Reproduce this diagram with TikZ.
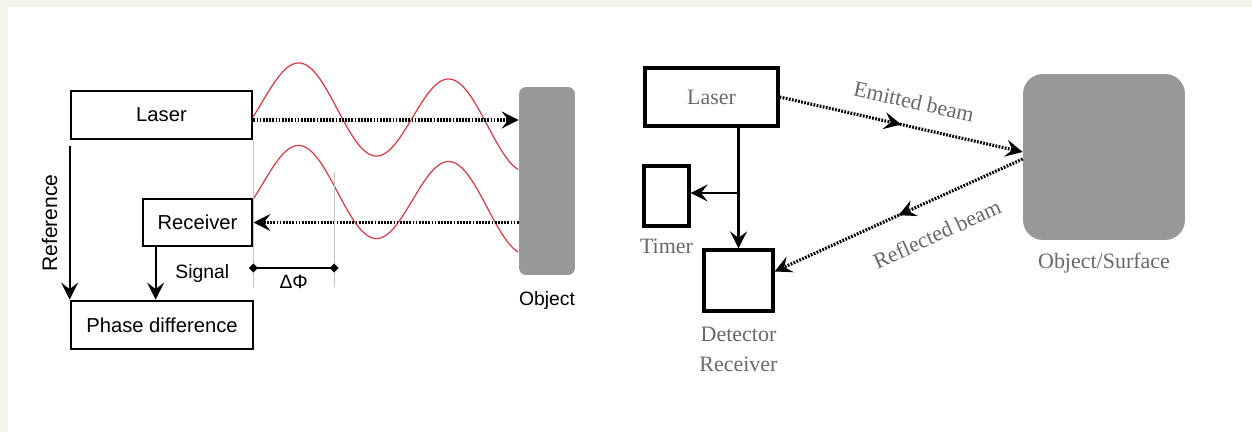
\documentclass[tikz,border=0pt]{standalone}
\usepackage{fontspec}
\setmainfont{Liberation Serif}
\setsansfont{Liberation Sans}
\usetikzlibrary{arrows.meta,positioning,decorations.markings}
\definecolor{framebg}{RGB}{244,244,236}
\definecolor{objgray}{RGB}{152,152,152}
\definecolor{wavered}{RGB}{212,62,72}
\definecolor{lblgray}{RGB}{105,105,105}

\begin{document}
\begin{tikzpicture}[
  x=0.02cm, y=-0.02cm,
  box/.style={draw,line width=1.6pt,fill=white,inner sep=0pt,font=\sffamily\fontsize{11.5}{13}\selectfont},
  rbox/.style={box,line width=1.8pt,font=\fontsize{12.5}{15}\selectfont,text=lblgray},
  obj/.style={fill=objgray,inner sep=0pt},
  arrow/.style={-{Stealth[length=3.4mm,width=3.4mm,inset=1.3mm]},line width=1.1pt},
  beam/.style={-{Stealth[length=3.4mm,width=3.4mm,inset=1.3mm]},line width=1.8pt,dash pattern=on 1pt off 0.8pt},
  midarrow/.style={postaction={decorate},decoration={markings,
    mark=at position #1 with {\arrow{Stealth[length=3.4mm,width=3.4mm,inset=1.3mm]}}}},
  guide/.style={draw=gray!45,line width=0.4pt},
  wave/.style={wavered,line width=0.7pt},
  lbl/.style={font=\sffamily\fontsize{11}{13}\selectfont},
  slbl/.style={font=\fontsize{12.5}{17}\selectfont,text=lblgray,align=center}
]
\useasboundingbox (0,0) rectangle (1252,432);
\fill[framebg] (0,0) rectangle (1252,432);
\fill[white] (8,7) rectangle (1252,432);

% phase-shift method
\node[box,minimum width=3.62cm,minimum height=0.96cm] (laserL) at (161.5,115) {Laser};
\node[box,minimum width=2.18cm,minimum height=0.94cm] (recv) at (197.5,222.5) {Receiver};
\node[box,minimum width=3.64cm,minimum height=0.96cm] (phase) at (162,325) {Phase difference};
\node[obj,rounded corners=0.14cm,minimum width=1.12cm,minimum height=3.76cm] (obj) at (547,181) {};
\node[lbl,below=0.2cm of obj] (objlbl) {Object};

\draw[wave] plot[domain=253:518,samples=90,smooth] (\x,{105.5+0.107*(\x-300)-42.5*sin(2.4*(\x-262.5))});
\draw[wave] plot[domain=253:518,samples=90,smooth] (\x,{188+0.107*(\x-300)-42.5*sin(2.4*(\x-262.5))});

\coordinate (txL) at ([yshift=-0.1cm]laserL.east);
\draw[beam] (txL) -- (txL -| obj.west);
\draw[beam] (recv.east -| obj.west) -- (recv.east);

\draw[arrow] ([yshift=-0.12cm]laserL.south west) -- (laserL.south west |- phase.north)
  node[midway,rotate=90,anchor=south,yshift=0.11cm,lbl,font=\sffamily\fontsize{12}{14}\selectfont] {Reference};
\draw[arrow] ([xshift=0.28cm]recv.south west) -- ([xshift=0.28cm]recv.south west |- phase.north)
  node[midway,right=0.26cm,lbl] {Signal};

\coordinate (dphiL) at (laserL.south east |- 0,268);
\coordinate (dphiR) at (334,268);
\draw[guide] (laserL.south east) -- ([yshift=-0.38cm]dphiL);
\draw[guide] (dphiR |- 0,172) -- ([yshift=-0.38cm]dphiR);
\draw[{Diamond[length=1.8mm,width=1.8mm]}-{Diamond[length=1.8mm,width=1.8mm]},line width=1pt,
  shorten <=-0.9mm,shorten >=-0.9mm] (dphiL) -- node[below=0pt,lbl] {ΔΦ} (dphiR);

% time-of-flight method
\node[rbox,minimum width=2.66cm,minimum height=1.16cm] (laserR) at (711.5,97) {Laser};
\node[rbox,minimum width=0.9cm,minimum height=1.2cm] (timer) at (666.5,196) {};
\node[rbox,minimum width=1.38cm,minimum height=1.22cm] (det) at (738.5,280.5) {};
\node[obj,rounded corners=0.4cm,minimum width=3.24cm,minimum height=3.32cm] (surf) at (1104,157) {};
\node[slbl,below=0.11cm of timer] (timerlbl) {Timer};
\node[slbl,below=0.17cm of det] (detlbl) {Detector\\Receiver};
\node[slbl,below=0.12cm of surf] (surflbl) {Object/Surface};

\coordinate (split) at (det.north |- 0,193);
\draw[arrow,line width=1.3pt] (laserR.south -| det.north) -- (det.north);
\draw[arrow,line width=1.3pt] (split) -- (split -| timer.east);

\draw[beam,midarrow=0.5] (laserR.east) -- ([yshift=0.1cm]surf.west)
  node[pos=0.53,sloped,above=0.2cm,slbl] {Emitted beam};
\draw[beam,midarrow=0.5] ([yshift=-0.04cm]surf.west) -- ([yshift=0.18cm]det.east)
  node[pos=0.4,sloped,below=0.35cm,slbl] {Reflected beam};
\end{tikzpicture}
\end{document}
